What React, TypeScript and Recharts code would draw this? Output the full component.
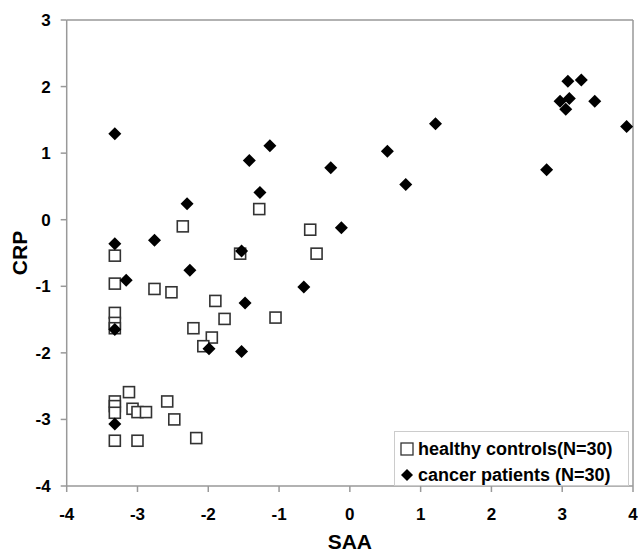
import React from 'react';
import { ScatterChart, Scatter, XAxis, YAxis, ReferenceLine, Legend } from 'recharts';

const xTicks = [-4, -3, -2, -1, 0, 1, 2, 3, 4];
const yTicks = [-4, -3, -2, -1, 0, 1, 2, 3];

const healthyX = [-2.36, -1.28, -0.56, -0.47, -3.32, -1.55, -3.32, -2.76, -2.52, -1.90, -1.77, -1.05, -3.32, -3.32, -2.21, -1.95, -2.07, -3.12, -3.32, -3.32, -3.32, -3.07, -3.00, -2.88, -2.58, -2.48, -3.32, -3.00, -2.17, -3.32];
const healthyY = [-0.10, 0.16, -0.15, -0.51, -0.54, -0.51, -0.96, -1.04, -1.09, -1.22, -1.49, -1.47, -1.40, -1.55, -1.63, -1.77, -1.90, -2.59, -2.73, -2.80, -2.90, -2.84, -2.89, -2.89, -2.73, -3.00, -3.32, -3.32, -3.28, -1.63];

const cancerX = [-3.32, -1.13, -1.42, -0.27, -1.27, -2.30, -3.32, -2.76, -1.53, -2.26, -3.16, -0.65, -1.48, -3.32, -1.99, -1.53, -3.32, 0.53, 1.21, 0.79, -0.12, 3.08, 3.27, 2.97, 3.10, 3.05, 3.46, 3.91, 2.78];
const cancerY = [1.29, 1.11, 0.89, 0.78, 0.41, 0.24, -0.36, -0.31, -0.47, -0.76, -0.91, -1.01, -1.25, -1.65, -1.94, -1.98, -3.07, 1.03, 1.44, 0.53, -0.12, 2.08, 2.10, 1.78, 1.82, 1.66, 1.78, 1.40, 0.75];

const healthy = healthyX.map((x, i) => ({ x, y: healthyY[i] }));
const cancer = cancerX.map((x, i) => ({ x, y: cancerY[i] }));

const FONT = '"Liberation Sans", Arial, sans-serif';
const AXIS = '#999999';

const SquareShape = (props: any) => {
  const { cx, cy } = props;
  if (cx == null || cy == null) return null;
  return <rect x={cx - 5.5} y={cy - 5.5} width={11} height={11} fill="#ffffff" stroke="#333333" strokeWidth={1.6} />;
};

const DiamondShape = (props: any) => {
  const { cx, cy } = props;
  if (cx == null || cy == null) return null;
  const r = 6.5;
  return <polygon points={`${cx},${cy - r} ${cx + r},${cy} ${cx},${cy + r} ${cx - r},${cy}`} fill="#000000" />;
};

const XTick = (props: any) => {
  const { x, y, payload } = props;
  return (
    <text x={x} y={y} dy="0.71em" textAnchor="middle" fill="#000" fontSize={17} fontWeight="bold" fontFamily={FONT}>
      {payload.value}
    </text>
  );
};

const YTick = (props: any) => {
  const { x, y, payload } = props;
  return (
    <text x={x} y={y} dy="0.355em" textAnchor="end" fill="#000" fontSize={17} fontWeight="bold" fontFamily={FONT}>
      {payload.value}
    </text>
  );
};

const renderLegend = () => (
  <div
    style={{
      width: 235,
      height: 55,
      boxSizing: 'border-box',
      border: '1px solid #cccccc',
      background: '#ffffff',
      fontFamily: FONT,
      fontWeight: 'bold',
      fontSize: 18,
      color: '#000',
      paddingTop: 4,
      paddingLeft: 5,
      lineHeight: '26px',
      whiteSpace: 'nowrap',
    }}
  >
    <div style={{ display: 'flex', alignItems: 'center' }}>
      <svg width={14} height={14} style={{ marginRight: 4 }}>
        <rect x={1} y={1} width={12} height={12} fill="#fff" stroke="#333" strokeWidth={1.3} />
      </svg>
      <span>healthy controls(N=30)</span>
    </div>
    <div style={{ display: 'flex', alignItems: 'center' }}>
      <svg width={14} height={14} style={{ marginRight: 4 }}>
        <polygon points="7,1 13,7 7,13 1,7" fill="#000" />
      </svg>
      <span>cancer patients (N=30)</span>
    </div>
  </div>
);

export default function App() {
  return (
    <div style={{ position: 'absolute', left: 0, top: 0 }}>
      <ScatterChart width={638} height={552} margin={{ top: 20, right: 5, left: 0, bottom: 0 }}>
        <XAxis
          type="number"
          dataKey="x"
          domain={[-4, 4]}
          ticks={xTicks}
          interval={0}
          allowDataOverflow
          height={66}
          stroke={AXIS}
          strokeWidth={1.5}
          tickSize={6}
          tickMargin={16}
          tick={<XTick />}
          label={{ value: 'SAA', position: 'insideBottom', offset: 3, style: { fill: '#000', fontSize: 21, fontWeight: 'bold', fontFamily: FONT } }}
        />
        <YAxis
          type="number"
          dataKey="y"
          domain={[-4, 3]}
          ticks={yTicks}
          interval={0}
          allowDataOverflow
          width={66.7}
          stroke={AXIS}
          strokeWidth={1.5}
          tickSize={6}
          tickMargin={10}
          tick={<YTick />}
          label={{ value: 'CRP', angle: -90, position: 'insideLeft', offset: 20, style: { textAnchor: 'middle', fill: '#000', fontSize: 21, fontWeight: 'bold', fontFamily: FONT } }}
        />
        <ReferenceLine y={3} stroke={AXIS} strokeWidth={1.5} />
        <ReferenceLine x={4} stroke={AXIS} strokeWidth={1.5} />
        <Scatter name="healthy controls(N=30)" data={healthy} shape={SquareShape} isAnimationActive={false} />
        <Scatter name="cancer patients (N=30)" data={cancer} shape={DiamondShape} isAnimationActive={false} />
        <Legend
          layout="vertical"
          align="center"
          verticalAlign="middle"
          content={renderLegend}
          wrapperStyle={{ left: 394, top: 431, width: 235, height: 55 }}
        />
      </ScatterChart>
    </div>
  );
}
